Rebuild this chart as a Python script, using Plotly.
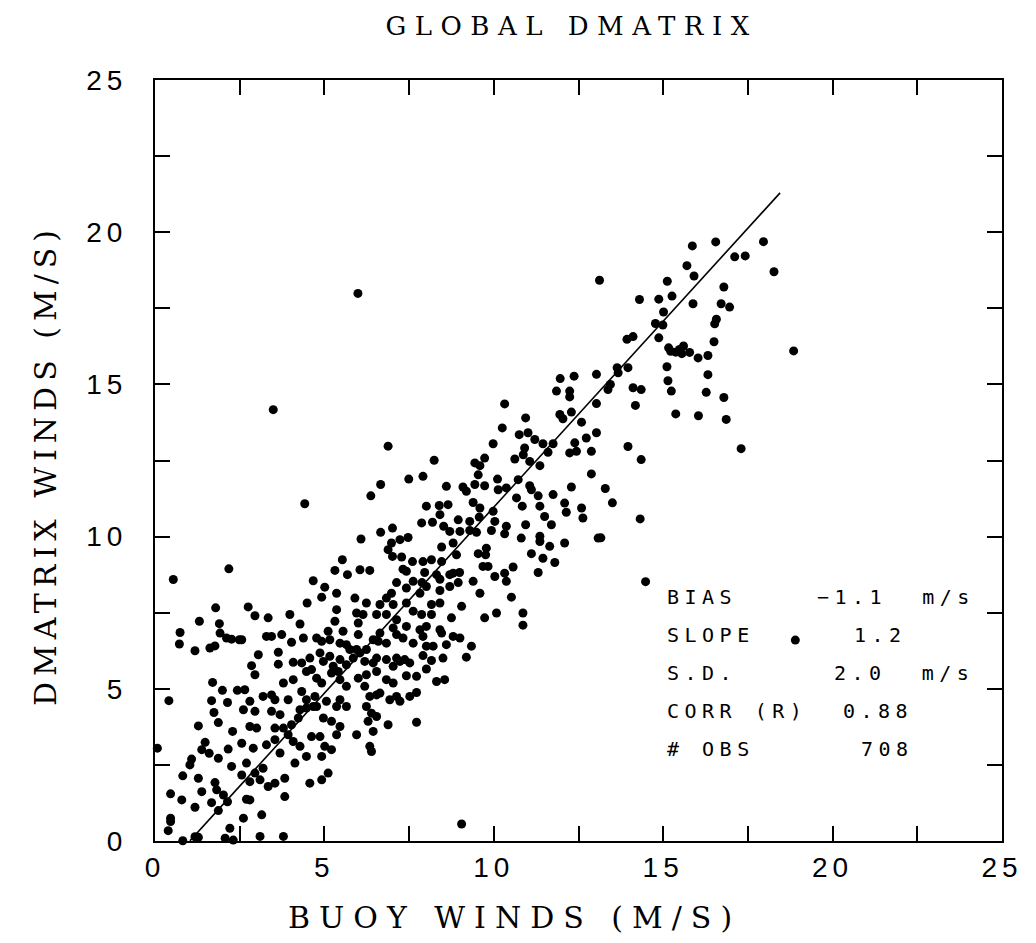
import plotly.graph_objects as go

# ---------------- data ----------------
buoy_winds = [
    # dense lower band
    2.75, 2.95, 3.34, 3.98, 4.28, 4.49, 5.36, 5.31, 5.55, 5.95, 6.00, 6.24, 6.14, 6.54, 6.64, 6.83, 7.03, 7.13,
    7.42, 7.62, 7.87, 8.16, 8.16, 8.41, 8.75, 9.05, 9.73, 10.08, 10.86, 10.86,
    2.56, 3.29, 3.44, 3.74, 4.03, 4.38, 4.77, 4.92, 5.11, 5.16, 5.46, 5.65, 6.00, 5.75, 5.95, 6.24, 6.44, 6.59,
    6.64, 6.83, 7.03, 7.13, 7.32, 7.42, 7.62, 7.82, 7.91, 8.01, 8.01, 8.21, 8.41, 8.46, 8.60, 8.80, 9.00, 9.34, 9.19,
    3.05, 3.64, 2.85, 2.95, 3.64, 4.08, 4.33, 4.57, 4.87, 4.62, 4.97, 5.16, 5.26, 5.46, 5.65, 5.85, 6.05, 6.19,
    6.44, 6.54, 6.83, 7.03, 7.13, 7.23, 7.37, 7.52, 7.91, 8.16, 8.50, 8.01,
    3.79, 4.08, 4.47, 4.77, 4.92, 5.21, 5.41, 5.46, 5.65, 6.00, 6.19, 6.24, 6.54, 6.64, 6.83, 7.03, 7.42, 7.72, 8.31, 8.55,
    2.65, 3.19, 3.44, 3.54, 3.93, 4.33, 4.47, 4.72, 4.67, 5.06, 5.36, 5.46, 5.65, 6.24, 6.34, 6.54, 6.39, 6.54,
    6.93, 7.13, 7.23, 7.52, 7.72,
    2.61, 2.80, 2.95, 2.80, 3.00, 3.44, 3.69, 3.54, 3.79, 4.03, 4.28, 4.47, 4.23, 4.77, 4.97, 5.21, 5.46, 5.36,
    6.29, 6.44, 6.88, 5.95, 7.72,
    2.56, 2.90, 2.70, 3.29, 3.54, 3.69, 3.93, 4.08, 4.28, 4.13, 4.47, 4.62, 4.87, 4.92, 5.01, 5.21, 6.34, 6.39,
    2.56, 2.95, 2.80, 3.10, 3.19, 3.34, 3.54, 3.83, 4.57, 4.92, 5.11, 2.70, 2.80, 3.83, 2.61, 3.15, 3.10, 3.79, 9.05,
    # middle band
    3.49, 6.88, 4.42, 10.32, 11.85, 12.24, 12.24, 11.95, 12.04, 12.29, 13.03, 12.59, 10.94, 10.25, 10.75, 11.01,
    11.21, 11.45, 11.75, 11.60, 12.39, 12.73, 13.03, 12.24, 12.44, 12.88, 9.98, 10.91, 10.87, 10.62, 11.06, 11.36,
    9.73, 9.44, 9.59, 9.54, 8.24, 7.91, 7.49, 6.66, 6.37, 8.60, 9.09, 9.19, 9.44, 9.73, 10.11, 10.13, 10.37, 10.72,
    11.06, 11.11, 11.31, 11.75, 12.29, 12.88, 10.67, 10.84, 11.36, 12.09, 12.14, 12.59, 12.63, 11.50, 11.70, 10.94,
    13.08, 9.39, 9.59, 9.98, 10.03, 9.93, 10.37, 10.32, 10.81, 11.36, 11.36, 11.65, 12.09, 11.11, 11.45, 11.80,
    11.31, 10.57, 10.32, 10.37, 10.52, 9.78, 9.76, 9.54, 9.68, 9.83, 10.03, 9.39, 9.59, 8.99, 8.80, 8.70, 8.41,
    8.95, 8.70, 8.41, 8.01, 8.39, 8.65, 8.41, 7.87, 8.19, 8.52, 8.95, 9.29, 8.70, 9.00, 9.29, 9.49, 9.57, 8.80,
    8.46, 8.90, 8.46, 8.16, 7.91, 7.60, 7.32, 7.42, 7.47, 7.23, 6.98, 6.88, 7.01, 7.28, 7.01, 6.66, 6.08, 7.88,
    7.62, 7.13, 7.96, 8.31, 5.53, 5.31, 5.68, 6.05, 6.34, 4.67, 5.01, 5.36, 4.92, 7.42, 7.82, 8.01, 6.83, 6.98, 5.90,
    # low-wind left edge
    1.31, 1.90, 0.74, 1.92, 0.72, 1.18, 1.62, 1.77, 2.11, 2.26, 2.49, 1.70, 1.99, 2.43, 0.41, 1.67, 2.14, 1.74,
    1.87, 1.28, 2.29, 0.07, 1.48, 1.38, 1.60, 1.87, 2.16, 2.26, 1.08, 1.03, 0.82, 1.28, 1.77, 1.82, 1.38, 0.46,
    0.79, 1.18, 1.67, 2.02, 2.14, 1.87, 0.46, 0.46, 0.39, 2.21, 1.18, 1.28, 0.82, 2.07, 2.31,
    0.54, 2.18, 1.79,
    # high-wind right side
    14.18, 15.37, 16.04, 16.86, 13.96, 14.35, 17.30, 13.29, 13.50, 14.32, 13.16, 14.48,
    13.12, 15.86, 16.55, 17.96, 17.11, 17.42, 18.27, 15.70, 15.91, 15.12, 15.26, 14.30, 14.87, 16.79, 15.01,
    15.88, 16.71, 16.96, 14.77, 14.99, 16.57, 16.52, 13.93, 14.11, 14.87, 16.50, 15.16, 15.22, 15.37, 15.48,
    15.60, 15.55, 15.78, 16.03, 16.32, 18.85, 13.03, 13.64, 13.96, 13.67, 15.11, 16.32, 13.44, 13.37, 14.11,
    14.35, 15.14, 15.24, 16.27, 16.79, 11.96, 12.37,
    # isolated points
    5.99, 18.9,
]

dmatrix_winds = [
    7.69, 7.40, 7.33, 7.44, 7.13, 7.82, 7.60, 7.22, 6.89, 7.49, 7.16, 7.82, 7.44, 7.44, 7.77, 7.44, 7.77, 7.27,
    7.82, 7.55, 7.44, 7.77, 7.44, 7.82, 7.33, 7.71, 7.33, 7.49, 7.49, 7.09,
    6.61, 6.72, 6.72, 6.78, 6.53, 6.67, 6.67, 6.56, 6.89, 6.61, 6.50, 6.45, 6.78, 6.29, 6.29, 6.29, 6.61, 6.56,
    6.83, 6.50, 7.00, 6.78, 6.67, 7.05, 6.50, 6.94, 6.72, 7.05, 6.40, 6.40, 6.94, 6.83, 6.45, 6.72, 6.67, 6.40, 6.04,
    6.12, 6.20, 5.76, 5.46, 5.81, 5.87, 5.85, 6.01, 6.18, 5.63, 5.90, 6.07, 5.74, 5.96, 5.79, 6.01, 6.18, 5.90,
    5.85, 6.01, 5.96, 5.74, 6.01, 5.90, 5.96, 5.85, 6.09, 5.93, 6.01, 5.65,
    5.19, 5.30, 5.57, 5.35, 5.19, 5.52, 5.57, 5.30, 5.08, 5.35, 5.08, 5.46, 5.57, 4.86, 5.30, 5.19, 5.43, 5.41, 5.24, 5.30,
    4.97, 4.75, 4.80, 4.64, 4.64, 4.91, 4.64, 4.75, 4.42, 4.59, 4.42, 4.64, 4.42, 4.42, 4.75, 4.80, 4.20, 4.09,
    4.64, 4.75, 4.59, 4.75, 4.88,
    4.31, 4.59, 4.26, 3.76, 3.71, 4.26, 4.15, 3.71, 3.71, 3.82, 4.31, 4.37, 4.04, 4.42, 4.04, 3.93, 3.76, 3.49,
    3.93, 3.60, 3.82, 3.49, 3.90,
    3.21, 3.05, 2.56, 3.16, 3.33, 2.89, 3.49, 3.27, 3.11, 2.56, 2.78, 3.43, 3.43, 2.78, 3.11, 3.00, 3.11, 2.94,
    2.17, 2.23, 1.95, 2.01, 2.39, 1.79, 1.90, 2.06, 1.90, 2.01, 2.23, 1.37, 1.35, 1.46, 0.75, 0.86, 0.15, 0.15, 0.56,
    14.17, 12.97, 11.08, 14.36, 14.78, 14.78, 14.59, 14.01, 13.87, 14.09, 14.37, 13.76, 13.90, 13.57, 13.35, 13.41,
    13.19, 13.05, 13.05, 12.77, 13.08, 13.24, 13.41, 12.75, 12.80, 12.80, 13.05, 12.91, 12.69, 12.55, 12.47, 12.33,
    12.58, 12.42, 12.33, 12.03, 12.51, 11.98, 11.89, 11.71, 11.34, 11.65, 11.63, 11.49, 11.71, 11.67, 11.89, 11.54, 11.60, 11.87,
    11.67, 11.54, 11.34, 11.38, 11.63, 12.06, 11.27, 11.00, 11.00, 11.10, 10.80, 10.94, 10.61, 10.66, 10.39, 10.39,
    9.95, 11.12, 10.94, 10.83, 10.50, 10.20, 10.34, 10.09, 9.95, 10.01, 9.84, 9.68, 9.79, 9.44, 9.29, 9.15,
    8.82, 9.00, 8.80, 8.53, 8.01, 9.62, 9.40, 9.44, 9.02, 9.02, 8.69, 8.53, 8.14, 8.82, 8.80, 8.75, 8.60,
    8.49, 8.36, 8.23, 11.00, 11.02, 11.05, 10.72, 10.45, 10.47, 10.34, 10.55, 10.50, 10.17, 10.17, 10.20, 10.14, 10.64, 9.79,
    9.66, 9.40, 9.18, 9.24, 9.18, 9.18, 8.93, 8.86, 9.97, 9.90, 9.79, 9.57, 9.35, 9.33, 10.28, 10.14, 9.92, 8.49,
    8.53, 8.49, 8.82, 8.75, 9.24, 8.89, 8.75, 8.91, 8.89, 8.55, 8.34, 8.14, 8.01, 8.31, 8.14, 8.36, 7.98, 8.14, 7.98,
    7.22, 7.14, 6.85, 6.83, 6.47, 6.25, 6.34, 6.41, 6.67, 6.63, 6.61, 5.21, 4.95, 4.95, 4.61, 4.61, 4.55, 4.22,
    3.89, 3.78, 3.60, 3.05, 3.24, 3.00, 2.88, 2.72, 3.02, 2.45, 2.69, 2.50, 2.14, 2.06, 1.92, 1.68, 1.62, 1.55,
    1.35, 1.11, 1.26, 1.51, 1.29, 1.00, 0.75, 0.64, 0.34, 0.42, 0.14, 0.12, 0.01, 0.09, 0.03,
    8.59, 8.94, 7.66,
    14.31, 14.03, 13.97, 13.85, 12.96, 12.53, 12.89, 11.58, 11.11, 10.58, 9.96, 8.52,
    18.42, 19.55, 19.68, 19.69, 19.19, 19.22, 18.70, 18.90, 18.56, 18.39, 17.90, 17.79, 17.80, 18.20, 17.38,
    17.65, 17.65, 17.54, 17.00, 16.95, 17.14, 16.99, 16.48, 16.57, 16.53, 16.40, 16.20, 16.09, 16.06, 16.15,
    16.26, 16.01, 16.05, 15.87, 15.95, 16.10, 15.33, 15.55, 15.55, 15.38, 15.58, 15.32, 15.00, 14.83, 14.89,
    14.83, 15.12, 14.78, 14.74, 14.57, 15.19, 15.27,
    17.99, 6.6,
]

# regression line
fit_slope = 1.222
fit_intercept = -1.253
fit_x_range = [1.03, 18.45]

# axis ticks
tick_values = [0, 2.5, 5, 7.5, 10, 12.5, 15, 17.5, 20, 22.5, 25]
tick_labels = ["0", "", "5", "", "10", "", "15", "", "20", "", "25"]

# statistics box
stat_names = ["BIAS", "SLOPE", "S.D.", "CORR (R)", "# OBS"]
stat_values = ["\u22121.1  m/s", "1.2", "2.0  m/s", "0.88", "708"]

title_text = "GLOBAL DMATRIX"
x_title = "BUOY WINDS (M/S)"
y_title = "DMATRIX WINDS (M/S)"

# ---------------- figure ----------------
n = min(len(buoy_winds), len(dmatrix_winds))
fig = go.Figure()
fig.add_trace(go.Scatter(
    x=buoy_winds[:n], y=dmatrix_winds[:n], mode="markers",
    marker=dict(color="black", size=9, line=dict(width=0)),
    cliponaxis=False, showlegend=False, hoverinfo="skip"))

fit_y = [fit_slope * v + fit_intercept for v in fit_x_range]
fig.add_trace(go.Scatter(
    x=fit_x_range, y=fit_y, mode="lines",
    line=dict(color="black", width=1.6), showlegend=False, hoverinfo="skip"))

def spaced(t, sp):
    return "<span style='letter-spacing:%.1fpx'>%s</span>" % (sp, t)

tick_text = [spaced(t, 5) if t else "" for t in tick_labels]

axis_common = dict(
    range=[0, 25], tickmode="array", tickvals=tick_values, ticktext=tick_text,
    ticks="inside", ticklen=15, tickwidth=1.5, tickcolor="black",
    showline=True, linecolor="black", linewidth=2, mirror="allticks",
    showgrid=False, zeroline=False,
    tickfont=dict(family="Liberation Sans", size=28, color="black"),
)

fig.update_layout(
    width=1036, height=943,
    margin=dict(l=147, r=42, t=72, b=110),
    paper_bgcolor="white", plot_bgcolor="white",
    xaxis=dict(**axis_common, ticklabelstandoff=0),
    yaxis=dict(**axis_common, ticklabelstandoff=20),
    title=dict(text=spaced(title_text, 8.5), x=0.544, xanchor="center", xref="container",
               y=0.981, yanchor="middle",
               font=dict(family="DejaVu Serif", size=26, color="black")),
    showlegend=False,
)

fig.add_annotation(text=spaced(x_title, 9), xref="paper", yref="paper",
                   x=0.425, y=-0.101, xanchor="center", yanchor="middle", showarrow=False,
                   font=dict(family="DejaVu Serif", size=30, color="black"))
fig.add_annotation(text=spaced(y_title, 6), xref="paper", yref="paper",
                   x=-0.13, y=0.494, xanchor="center", yanchor="middle", showarrow=False,
                   textangle=-90,
                   font=dict(family="DejaVu Serif", size=30, color="black"))

label_x = 15.04
value_x = [19.47, 20.56, 19.97, 20.24, 20.77]
row_y = [8.03, 6.78, 5.53, 4.28, 3.03]
stat_font = dict(family="DejaVu Sans Mono", size=20, color="black")
for name, val, vx, ry in zip(stat_names, stat_values, value_x, row_y):
    fig.add_annotation(text=spaced(name, 5.5), x=label_x, y=ry, xanchor="left", yanchor="middle",
                       showarrow=False, font=stat_font)
    fig.add_annotation(text=spaced(val, 5.5), x=vx, y=ry, xanchor="left", yanchor="middle",
                       showarrow=False, font=stat_font)

fig.write_html("out.html")
